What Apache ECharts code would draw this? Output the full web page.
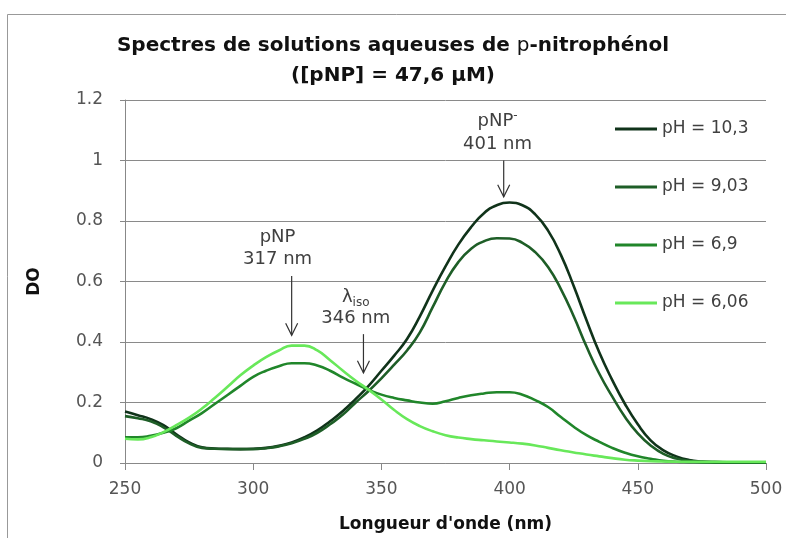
<!DOCTYPE html>
<html>
<head>
<meta charset="utf-8">
<title>Spectres p-nitrophénol</title>
<script src="https://cdn.jsdelivr.net/npm/echarts@6/dist/echarts.min.js"></script>
<style>
  html, body { margin: 0; padding: 0; background: #fff; }
  #chart { width: 786px; height: 538px; }
</style>
</head>
<body>
<div id="chart"></div>
<script>
// longueurs d'onde (nm)
const wavelengths = [250,255,260,265,270,275,280,285,290,295,300,305,310,315,320,325,330,335,340,345,
  350,355,360,365,370,375,380,385,390,395,400,405,410,415,420,425,430,435,440,445,
  450,455,460,465,470,475,480,490,500];

// DO pour chaque pH
const ph103 = [0.170,0.158,0.145,0.125,0.095,0.068,0.052,0.048,0.047,0.046,
  0.047,0.050,0.057,0.068,0.085,0.108,0.138,0.172,0.212,0.255,
  0.305,0.355,0.410,0.485,0.570,0.650,0.722,0.780,0.826,0.852,
  0.861,0.852,0.822,0.768,0.688,0.585,0.472,0.365,0.275,0.195,
  0.128,0.075,0.042,0.022,0.010,0.005,0.003,0.002,0.002];
const ph903 = [0.155,0.148,0.138,0.118,0.090,0.065,0.050,0.047,0.046,0.046,
  0.046,0.049,0.055,0.065,0.080,0.100,0.128,0.160,0.200,0.238,
  0.280,0.325,0.372,0.432,0.515,0.598,0.664,0.708,0.733,0.743,
  0.742,0.728,0.697,0.648,0.575,0.485,0.385,0.295,0.220,0.152,
  0.098,0.058,0.030,0.015,0.007,0.004,0.003,0.002,0.002];
const ph69 = [0.085,0.085,0.090,0.100,0.115,0.140,0.165,0.195,0.225,0.255,
  0.285,0.305,0.320,0.330,0.330,0.322,0.305,0.282,0.262,0.242,
  0.226,0.215,0.207,0.200,0.196,0.204,0.215,0.224,0.230,0.234,
  0.234,0.226,0.208,0.185,0.152,0.120,0.092,0.070,0.050,0.034,
  0.022,0.014,0.007,0.004,0.003,0.002,0.002,0.002,0.002];
const ph606 = [0.080,0.078,0.085,0.102,0.125,0.150,0.180,0.215,0.252,0.290,
  0.322,0.350,0.372,0.388,0.388,0.372,0.340,0.305,0.272,0.242,
  0.210,0.175,0.145,0.122,0.105,0.092,0.084,0.079,0.075,0.071,
  0.068,0.064,0.058,0.050,0.042,0.035,0.028,0.022,0.016,0.011,
  0.008,0.006,0.005,0.004,0.004,0.004,0.004,0.004,0.004];

const seriesNames = ['pH = 10,3', 'pH = 9,03', 'pH = 6,9', 'pH = 6,06'];
const seriesValues = [ph103, ph903, ph69, ph606];
const seriesColors = ['#10331a', '#1e5e27', '#20862a', '#68e85a'];

// annotations (texte + flèche) en coordonnées des données
const notes = [
  { lines: ['pNP', '317 nm'], textX: 309.5, textY: [0.745, 0.672], arrowX: 315, arrowY: [0.618, 0.422] },
  { lines: ['{t|λ}{sub|iso}', '346 nm'], textX: 340, textY: [0.547, 0.477], arrowX: 343, arrowY: [0.426, 0.298] },
  { lines: ['{t|pNP}{sup|-}', '401 nm'], textX: 395.3, textY: [1.13, 1.053], arrowX: 397.7, arrowY: [1.0, 0.88] }
];

const FONT = 'DejaVu Sans';
const chart = echarts.init(document.getElementById('chart'));

const option = {
  animation: false,
  backgroundColor: '#fff',
  title: {
    text: '{b|Spectres de solutions aqueuses de }{n|p}{b|-nitrophénol}\n{b|([pNP] = 47,6 µM)}',
    left: 'center',
    top: 26,
    textStyle: {
      rich: {
        b: { fontFamily: FONT, fontWeight: 'bold', fontSize: 20, color: '#111', lineHeight: 30 },
        n: { fontFamily: FONT, fontWeight: 'normal', fontSize: 20, color: '#111', lineHeight: 30 }
      }
    }
  },
  grid: { left: 125, right: 20, top: 100, bottom: 63 },
  legend: {
    orient: 'vertical',
    left: 610,
    top: 114,
    icon: 'rect',
    itemWidth: 42,
    itemHeight: 3,
    itemGap: 38,
    textStyle: { fontFamily: FONT, fontSize: 17, color: '#404040', lineHeight: 20 },
    data: seriesNames
  },
  xAxis: {
    type: 'value',
    min: 250,
    max: 500,
    interval: 50,
    name: "Longueur d'onde (nm)",
    nameLocation: 'middle',
    nameGap: 53,
    nameTextStyle: { fontFamily: FONT, fontWeight: 'bold', fontSize: 17, color: '#111' },
    axisLine: { lineStyle: { color: '#888', width: 1 } },
    axisTick: { show: true, length: 7, lineStyle: { color: '#888' } },
    axisLabel: { margin: 18, fontFamily: FONT, fontSize: 17, color: '#555' },
    splitLine: { show: false }
  },
  yAxis: {
    type: 'value',
    min: 0,
    max: 1.2,
    interval: 0.2,
    name: 'DO',
    nameLocation: 'middle',
    nameGap: 82,
    nameTextStyle: { fontFamily: FONT, fontWeight: 'bold', fontSize: 17, color: '#111' },
    axisLine: { show: true, lineStyle: { color: '#888', width: 1 } },
    axisTick: { show: true, length: 5, lineStyle: { color: '#888' } },
    axisLabel: { margin: 22, fontFamily: FONT, fontSize: 17, color: '#555' },
    splitLine: { lineStyle: { color: '#8a8a8a', width: 1 } }
  },
  series: seriesNames.map((name, i) => ({
    name: name,
    type: 'line',
    smooth: 0.5,
    symbol: 'none',
    data: wavelengths.map((w, j) => [w, seriesValues[i][j]]),
    lineStyle: { color: seriesColors[i], width: 2.6 },
    itemStyle: { color: seriesColors[i] },
    z: 3 + i
  }))
};

chart.setOption(option);

// dessin des annotations à partir des échelles de l'axe
function buildNotes() {
  // cadre : seuls les bords haut et gauche sont visibles
  const els = [{
    type: 'polyline',
    shape: { points: [[7.5, 540], [7.5, 14.5], [786, 14.5]] },
    style: { fill: 'none', stroke: '#999', lineWidth: 1 },
    silent: true
  }];
  notes.forEach(n => {
    n.lines.forEach((txt, k) => {
      const p = chart.convertToPixel({ gridIndex: 0 }, [n.textX, n.textY[k]]);
      els.push({
        type: 'text',
        x: p[0], y: p[1],
        z: 10,
        style: {
          text: txt,
          align: 'center',
          verticalAlign: 'middle',
          fontFamily: FONT,
          fontSize: 18,
          fill: '#404040',
          rich: {
            t: { fontFamily: FONT, fontSize: 18, fill: '#404040' },
            sub: { fontFamily: FONT, fontSize: 12, fill: '#404040', padding: [10, 0, 0, 0] },
            sup: { fontFamily: FONT, fontSize: 12, fill: '#404040', padding: [0, 0, 10, 0] }
          }
        }
      });
    });
    const top = chart.convertToPixel({ gridIndex: 0 }, [n.arrowX, n.arrowY[0]]);
    const tip = chart.convertToPixel({ gridIndex: 0 }, [n.arrowX, n.arrowY[1]]);
    els.push({
      type: 'line', z: 10,
      shape: { x1: top[0], y1: top[1], x2: tip[0], y2: tip[1] },
      style: { stroke: '#333', lineWidth: 1.2 }
    });
    els.push({
      type: 'polyline', z: 10,
      shape: { points: [[tip[0] - 6, tip[1] - 12], [tip[0], tip[1]], [tip[0] + 6, tip[1] - 12]] },
      style: { stroke: '#333', lineWidth: 1.2, fill: 'none' }
    });
  });
  chart.setOption({ graphic: els });
}
buildNotes();
</script>
</body>
</html>
